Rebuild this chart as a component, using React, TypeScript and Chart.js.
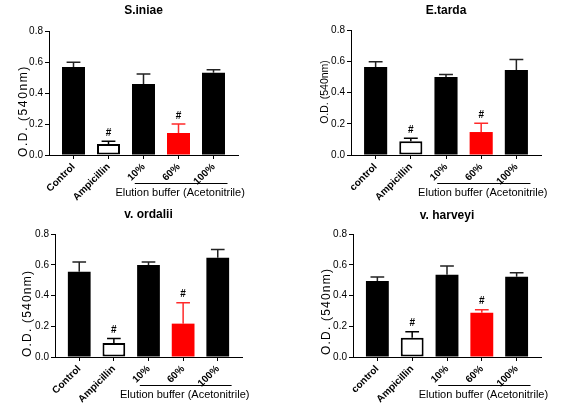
import React, { useEffect, useRef } from "react";
import { Chart, registerables } from "chart.js";

Chart.register(...registerables);

// ---------- data ----------
const categoriesUpper = ["Control", "Ampicillin", "10%", "60%", "100%"];
const categoriesLower = ["control", "Ampicillin", "10%", "60%", "100%"];
const yTickValues = [0, 0.2, 0.4, 0.6, 0.8];
const significance = ["", "#", "", "#", ""];

const siniaeMeans = [0.567, 0.071, 0.458, 0.142, 0.531];
const siniaeErrors = [0.031, 0.017, 0.065, 0.058, 0.019];

const etardaMeans = [0.563, 0.088, 0.499, 0.147, 0.544];
const etardaErrors = [0.034, 0.019, 0.017, 0.056, 0.068];

const ordaliiMeans = [0.555, 0.091, 0.598, 0.217, 0.646];
const ordaliiErrors = [0.063, 0.03, 0.02, 0.136, 0.054];

const harveyiMeans = [0.494, 0.126, 0.535, 0.288, 0.522];
const harveyiErrors = [0.026, 0.039, 0.057, 0.02, 0.026];

const yAxisTitle = "O.D. (540nm)";
const groupLabel = "Elution buffer (Acetonitrile)";

// ---------- styles ----------
const FONT = "'Liberation Sans', Arial, Helvetica, sans-serif";
const barFill = ["#000000", "#ffffff", "#000000", "#ff0000", "#000000"];
const barBorder = ["#000000", "#000000", "#000000", "#ff0000", "#000000"];
const barBorderWidth = [0, 2, 0, 0, 0];
const errColor = ["#222222", "#000000", "#222222", "#ff2a2a", "#222222"];

const PANEL_W = 284;
const PANEL_H = 202;

type Panel = {
  title: string;
  cats: string[];
  means: number[];
  errors: number[];
  left: number;
  top: number;
  chartLeft: number;
  chartRight: number;
  chartTop: number;
  chartBottom: number;
  titleCenter: number;
  yTitle: { size: number; spacing: number; x: number; y: number; align: "left" | "center" };
};

const panels: Panel[] = [
  {
    title: "S.iniae", cats: categoriesUpper, means: siniaeMeans, errors: siniaeErrors,
    left: 0, top: 0, chartLeft: 49, chartRight: 238, chartTop: 31, chartBottom: 155, titleCenter: 10.5,
    yTitle: { size: 12, spacing: 1.6, x: 24, y: 157, align: "left" },
  },
  {
    title: "E.tarda", cats: categoriesLower, means: etardaMeans, errors: etardaErrors,
    left: 284, top: 0, chartLeft: 67, chartRight: 257, chartTop: 30, chartBottom: 155, titleCenter: 10.5,
    yTitle: { size: 10.5, spacing: 0, x: 41, y: 92, align: "center" },
  },
  {
    title: "v. ordalii", cats: categoriesUpper, means: ordaliiMeans, errors: ordaliiErrors,
    left: 0, top: 202, chartLeft: 55, chartRight: 242, chartTop: 32, chartBottom: 155, titleCenter: 12.5,
    yTitle: { size: 12, spacing: 1.2, x: 27.5, y: 155, align: "left" },
  },
  {
    title: "v. harveyi", cats: categoriesLower, means: harveyiMeans, errors: harveyiErrors,
    left: 284, top: 202, chartLeft: 69, chartRight: 257, chartTop: 32, chartBottom: 155, titleCenter: 13.5,
    yTitle: { size: 12, spacing: 1.2, x: 42.5, y: 153, align: "left" },
  },
];

function makeOverlayPlugin(p: Panel) {
  return {
    id: "overlay_" + p.title.replace(/[^a-z]/gi, ""),
    afterDatasetsDraw(chart: any) {
      const { ctx } = chart;
      const yScale = chart.scales.y;
      const meta = chart.getDatasetMeta(0);
      meta.data.forEach((bar: any, i: number) => {
        const mean = p.means[i];
        const err = p.errors[i];
        const x = bar.x;
        const yMean = yScale.getPixelForValue(mean);
        const yTop = yScale.getPixelForValue(mean + err);
        const capHalf = bar.width * 0.3;
        ctx.save();
        ctx.strokeStyle = errColor[i];
        ctx.lineWidth = 1.5;
        ctx.beginPath();
        ctx.moveTo(x, yMean);
        ctx.lineTo(x, yTop);
        ctx.moveTo(x - capHalf, yTop);
        ctx.lineTo(x + capHalf, yTop);
        ctx.stroke();
        if (significance[i]) {
          ctx.fillStyle = "#000";
          ctx.font = `bold 10px ${FONT}`;
          ctx.textAlign = "center";
          ctx.textBaseline = "middle";
          ctx.fillText(significance[i], x, yTop - 8);
        }
        ctx.restore();
      });
    },
    afterDraw(chart: any) {
      const { ctx, chartArea } = chart;
      const xScale = chart.scales.x;
      // group bracket
      const x1 = xScale.getPixelForValue(1.75);
      const x2 = xScale.getPixelForValue(4.4);
      const yLine = Math.round(chartArea.bottom + 27.7) + 0.5;
      ctx.save();
      ctx.strokeStyle = "#000";
      ctx.lineWidth = 1;
      ctx.beginPath();
      ctx.moveTo(x1, yLine);
      ctx.lineTo(x2, yLine);
      ctx.stroke();
      ctx.fillStyle = "#000";
      ctx.font = `11px ${FONT}`;
      ctx.textAlign = "center";
      ctx.textBaseline = "middle";
      ctx.fillText(groupLabel, (x1 + x2) / 2 - 1, chartArea.bottom + 37.5);
      // y axis title
      const t = p.yTitle;
      ctx.translate(t.x, t.y);
      ctx.rotate(-Math.PI / 2);
      ctx.font = `${t.size}px ${FONT}`;
      (ctx as any).letterSpacing = `${t.spacing}px`;
      ctx.textAlign = t.align;
      ctx.textBaseline = "middle";
      ctx.fillText(yAxisTitle, 0, 0);
      (ctx as any).letterSpacing = "0px";
      ctx.restore();
    },
  };
}

function PanelChart({ p }: { p: Panel }) {
  const ref = useRef<HTMLCanvasElement | null>(null);
  useEffect(() => {
    if (!ref.current) return;
    const titleLine = 12 * 1.2;
    const padTop = p.titleCenter - titleLine / 2;
    const padBottom = p.chartTop - titleLine - padTop;
    const chart = new Chart(ref.current, {
      type: "bar",
      data: {
        datasets: [
          {
            data: p.means.map((m, i) => ({ x: i, y: m })),
            backgroundColor: barFill,
            borderColor: barBorder,
            borderWidth: barBorderWidth,
            borderSkipped: false,
            categoryPercentage: 1,
            barPercentage: 0.657,
          } as any,
        ],
      },
      options: {
        animation: false,
        responsive: false,
        events: [],
        layout: { padding: { left: 0, right: PANEL_W - p.chartRight, top: 0, bottom: 0 } },
        plugins: {
          legend: { display: false },
          tooltip: { enabled: false },
          title: {
            display: true,
            text: p.title,
            fullSize: false,
            color: "#000",
            font: { family: FONT, size: 12, weight: "bold" },
            padding: { top: padTop, bottom: padBottom },
          },
        },
        scales: {
          x: {
            type: "linear",
            min: -0.7,
            max: 4.7,
            offset: false,
            afterBuildTicks: (s: any) => {
              s.ticks = p.cats.map((_, i) => ({ value: i }));
            },
            afterFit: (s: any) => {
              s.height = PANEL_H - p.chartBottom;
            },
            ticks: {
              autoSkip: false,
              minRotation: 45,
              maxRotation: 45,
              padding: 2,
              color: "#000",
              font: { family: FONT, size: 10, weight: "bold" },
              callback: (v: any) => p.cats[Math.round(Number(v))] ?? "",
            },
            grid: { display: true, drawOnChartArea: false, drawTicks: true, tickLength: 4, color: "#000", offset: false },
            border: { display: true, color: "#000", width: 1 },
          },
          y: {
            type: "linear",
            min: 0,
            max: 0.8,
            afterBuildTicks: (s: any) => {
              s.ticks = yTickValues.map((v) => ({ value: v }));
            },
            afterFit: (s: any) => {
              s.width = p.chartLeft;
            },
            ticks: {
              padding: 2,
              color: "#000",
              font: { family: FONT, size: 10 },
              callback: (v: any) => Number(v).toFixed(1),
            },
            grid: { display: true, drawOnChartArea: false, drawTicks: true, tickLength: 4, color: "#000" },
            border: { display: true, color: "#000", width: 1 },
          },
        },
      } as any,
      plugins: [makeOverlayPlugin(p)],
    });
    return () => chart.destroy();
  }, [p]);
  return (
    <canvas
      ref={ref}
      width={PANEL_W}
      height={PANEL_H}
      style={{ position: "absolute", left: p.left, top: p.top, width: PANEL_W, height: PANEL_H }}
    />
  );
}

export default function App() {
  return (
    <div style={{ position: "absolute", left: 0, top: 0, width: 568, height: 404, background: "#fff" }}>
      {panels.map((p) => (
        <PanelChart key={p.title} p={p} />
      ))}
    </div>
  );
}
